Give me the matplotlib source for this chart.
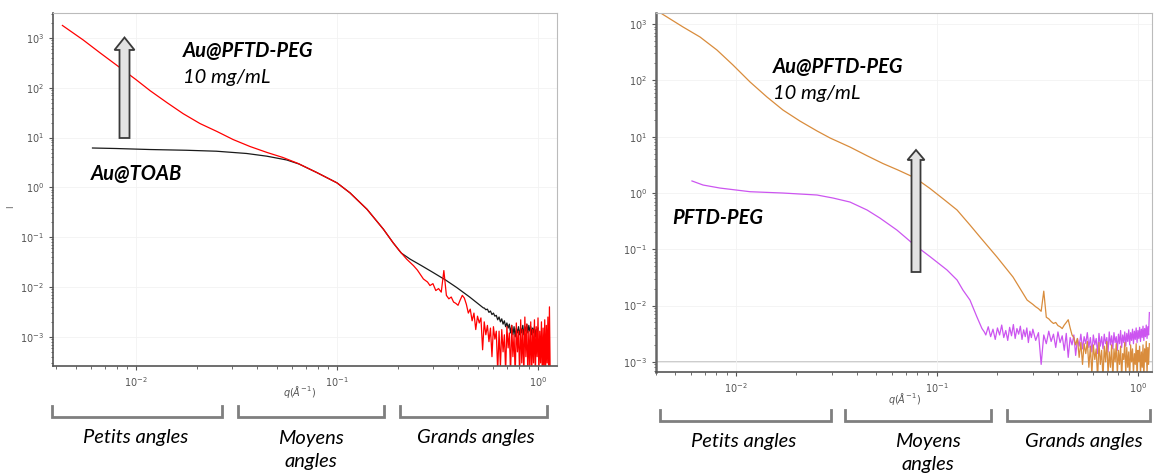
import matplotlib
matplotlib.use("Agg")
import matplotlib.pyplot as plt
from matplotlib.patches import Polygon
from matplotlib.lines import Line2D

# ---------------- data ----------------
# Left panel: Au@TOAB (black) and Au@PFTD-PEG 10 mg/mL (red)
q_red = [0.00430, 0.00545, 0.00662, 0.00879, 0.0100, 0.01175, 0.01426,
         0.01714, 0.0208, 0.0253, 0.0304, 0.0369, 0.0449, 0.0538, 0.0640, 0.0794,
         0.100, 0.116, 0.141, 0.170, 0.190, 0.204, 0.222, 0.240, 0.251, 0.269, 0.282,
         0.290,
         0.30, 0.31, 0.32, 0.33, 0.34, 0.35, 0.36, 0.37, 0.38, 0.39, 0.40, 0.41, 0.42,
         0.43, 0.44, 0.45, 0.46, 0.47, 0.48, 0.49, 0.50, 0.51, 0.52, 0.53, 0.54, 0.55,
         0.56, 0.57, 0.58, 0.59, 0.60, 0.61, 0.62, 0.63, 0.64, 0.65, 0.66, 0.67, 0.68,
         0.69, 0.70, 0.71, 0.72, 0.73, 0.74, 0.75, 0.76, 0.77, 0.78, 0.79, 0.80, 0.81,
         0.82, 0.83, 0.84, 0.85, 0.86, 0.87, 0.88, 0.89, 0.90, 0.91, 0.92, 0.93, 0.94,
         0.95, 0.96, 0.97, 0.98, 0.99, 1.00, 1.01, 1.02, 1.03, 1.04, 1.05, 1.06, 1.07,
         1.08, 1.09, 1.10, 1.11, 1.12, 1.13, 1.14, 1.15]
I_red = [1778, 912, 501, 214, 145, 87.1, 50.1,
         30.2, 19.1, 13.2, 9.12, 6.61, 5.01, 3.98, 3.02, 1.98,
         1.23, 0.776, 0.363, 0.145, 0.0776, 0.0537, 0.0363, 0.0269, 0.0219, 0.0145, 0.0126,
         0.0107,
         0.0117, 0.0085, 0.0093, 0.0079, 0.0214, 0.0068, 0.0058, 0.0063, 0.0050, 0.0047, 0.0043, 0.0055, 0.0068,
         0.0060, 0.0045, 0.0030, 0.0036, 0.0021, 0.0030, 0.0014, 0.0026, 0.0019, 0.0024, 0.00055, 0.0020, 0.0011,
         0.0017, 0.0008, 0.0015, 0.0004, 0.0016, 0.0009, 0.0013, 0.0002, 0.0013, 0.00025, 0.0014, 0.0005, 0.0011,
         0.0002, 0.0016, 0.0006, 0.0012, 0.00018, 0.0017, 0.0004, 0.0011, 0.00016, 0.0019, 0.0005, 0.0013, 0.00016,
         0.0022, 0.0003, 0.0014, 0.00016, 0.0025, 0.0004, 0.0018, 0.00016, 0.0013, 0.00025, 0.0020, 0.00016, 0.0014,
         0.0003, 0.0022, 0.00016, 0.0016, 0.0004, 0.0024, 0.00016, 0.0013, 0.0003, 0.0020, 0.00016, 0.0015, 0.0002,
         0.0022, 0.00016, 0.0017, 0.0003, 0.0025, 0.00016, 0.0040, 0.00016]

q_black = [0.00607, 0.00794, 0.01175, 0.01778, 0.0251, 0.0355, 0.0447, 0.0562, 0.0646,
           0.0794, 0.100, 0.116, 0.141, 0.170, 0.190, 0.209, 0.231, 0.263, 0.301, 0.347,
           0.394, 0.457, 0.535,
           0.54, 0.55, 0.56, 0.57, 0.58, 0.59, 0.60, 0.61, 0.62, 0.63, 0.64, 0.65, 0.66,
           0.67, 0.68, 0.69, 0.70, 0.71, 0.72, 0.73, 0.74, 0.75, 0.76, 0.77, 0.78, 0.79,
           0.80, 0.81, 0.82, 0.83, 0.84, 0.85, 0.86, 0.87, 0.88, 0.89, 0.90, 0.91, 0.92,
           0.93, 0.94, 0.95, 0.96, 0.97, 0.98, 0.99, 1.00]
I_black = [6.17, 6.03, 5.75, 5.56, 5.32, 4.79, 4.23, 3.55, 2.95,
           1.98, 1.23, 0.776, 0.363, 0.145, 0.0776, 0.0479, 0.0363, 0.0269, 0.0195, 0.0138,
           0.00977, 0.0063, 0.0038,
           0.0038, 0.0035, 0.0036, 0.0031, 0.0033, 0.0028, 0.0030, 0.0026, 0.0027, 0.0022, 0.0025, 0.0020, 0.0023,
           0.0018, 0.0021, 0.0016, 0.0019, 0.0015, 0.0018, 0.0012, 0.0017, 0.0011, 0.0016, 0.0010, 0.0015, 0.0012,
           0.0016, 0.0011, 0.0015, 0.0012, 0.0017, 0.0011, 0.0016, 0.0013, 0.0018, 0.0012, 0.0017, 0.0013, 0.0016,
           0.0011, 0.0015, 0.0012, 0.0016, 0.0010, 0.0014, 0.0012, 0.0015]

# Right panel: PFTD-PEG (magenta) and Au@PFTD-PEG 10 mg/mL (orange)
q_orange = [0.00429, 0.00545, 0.00662, 0.00804, 0.00966, 0.01175, 0.01426, 0.01714,
            0.0208, 0.0253, 0.0294, 0.0369, 0.0449, 0.0538, 0.0640, 0.0778, 0.0923,
            0.1096, 0.1259, 0.146, 0.1637, 0.199, 0.239, 0.281,
            0.30, 0.31, 0.32, 0.33, 0.34, 0.35, 0.36, 0.37, 0.38, 0.39, 0.40, 0.41, 0.42,
            0.43, 0.44, 0.45, 0.46, 0.47, 0.48, 0.49, 0.50, 0.51, 0.52, 0.53, 0.54, 0.55,
            0.56, 0.57, 0.58, 0.59, 0.60, 0.61, 0.62, 0.63, 0.64, 0.65, 0.66, 0.67, 0.68,
            0.69, 0.70, 0.71, 0.72, 0.73, 0.74, 0.75, 0.76, 0.77, 0.78, 0.79, 0.80, 0.81,
            0.82, 0.83, 0.84, 0.85, 0.86, 0.87, 0.88, 0.89, 0.90, 0.91, 0.92, 0.93, 0.94,
            0.95, 0.96, 0.97, 0.98, 0.99, 1.00, 1.01, 1.02, 1.03, 1.04, 1.05, 1.06, 1.07,
            1.08, 1.09, 1.10, 1.11, 1.12, 1.13, 1.14]
I_orange = [1507, 885, 588, 345, 187, 93.3, 50.5, 29.6,
            18.9, 12.6, 9.44, 6.53, 4.57, 3.33, 2.55, 1.85, 1.20,
            0.740, 0.497, 0.269, 0.165, 0.0726, 0.0321, 0.0125,
            0.0105, 0.0095, 0.0088, 0.0079, 0.0180, 0.0062, 0.0058, 0.0052, 0.0048, 0.0050, 0.0044, 0.0042, 0.0039,
            0.0045, 0.0050, 0.0056, 0.0040, 0.0030, 0.0027, 0.0020, 0.0026, 0.0012, 0.0022, 0.0009, 0.0021, 0.0014,
            0.0023, 0.0008, 0.0019, 0.0006, 0.0020, 0.0011, 0.0017, 0.0005, 0.0022, 0.0009, 0.0016, 0.0005, 0.0019,
            0.0010, 0.0023, 0.0006, 0.0015, 0.0008, 0.0020, 0.0005, 0.0017, 0.0010, 0.0021, 0.0006, 0.0016, 0.0009,
            0.0019, 0.0005, 0.0014, 0.0011, 0.0022, 0.0006, 0.0018, 0.0008, 0.0015, 0.0005, 0.0020, 0.0010, 0.0017,
            0.0006, 0.0014, 0.0009, 0.0021, 0.0005, 0.0016, 0.0010, 0.0019, 0.0006, 0.0015, 0.0008, 0.0020, 0.0005,
            0.0017, 0.0010, 0.0023, 0.0006, 0.0018, 0.0009, 0.0021]

q_magenta = [0.00604, 0.00686, 0.00832, 0.01175, 0.01714, 0.0253, 0.0304, 0.0369, 0.0449,
             0.0520, 0.0632, 0.0760, 0.0923, 0.1122, 0.1259, 0.1347, 0.146, 0.158, 0.1675,
             0.172,
             0.175, 0.18, 0.185, 0.19, 0.195, 0.20, 0.205, 0.21, 0.215, 0.22, 0.225, 0.23,
             0.235, 0.24, 0.245, 0.25, 0.255, 0.26, 0.265, 0.27, 0.275, 0.28, 0.285, 0.29,
             0.295, 0.30, 0.31, 0.32, 0.33, 0.34, 0.35, 0.36, 0.37, 0.38, 0.39, 0.40, 0.41,
             0.42, 0.43, 0.44, 0.45, 0.46, 0.47, 0.48, 0.49, 0.50, 0.51, 0.52, 0.53, 0.54,
             0.55, 0.56, 0.57, 0.58, 0.59, 0.60, 0.61, 0.62, 0.63, 0.64, 0.65, 0.66, 0.67,
             0.68, 0.69, 0.70, 0.71, 0.72, 0.73, 0.74, 0.75, 0.76, 0.77, 0.78, 0.79, 0.80,
             0.81, 0.82, 0.83, 0.84, 0.85, 0.86, 0.87, 0.88, 0.89, 0.90, 0.91, 0.92, 0.93,
             0.94, 0.95, 0.96, 0.97, 0.98, 0.99, 1.00, 1.01, 1.02, 1.03, 1.04, 1.05, 1.06,
             1.07, 1.08, 1.09, 1.10, 1.11, 1.12, 1.13, 1.14]
I_magenta = [1.63, 1.38, 1.22, 1.05, 0.995, 0.918, 0.811, 0.689, 0.497,
             0.358, 0.219, 0.125, 0.0740, 0.0428, 0.0284, 0.0188, 0.0125, 0.0063, 0.0039,
             0.0034,
             0.0030, 0.0042, 0.0028, 0.0038, 0.0025, 0.0040, 0.0030, 0.0045, 0.0027, 0.0036, 0.0024, 0.0041,
             0.0029, 0.0046, 0.0026, 0.0039, 0.0031, 0.0043, 0.0025, 0.0037, 0.0028, 0.0040, 0.0022, 0.0035,
             0.0027, 0.0038, 0.0024, 0.0033, 0.0009, 0.0030, 0.0021, 0.0035, 0.0023, 0.0031, 0.0018, 0.0034, 0.0022,
             0.0029, 0.0016, 0.0032, 0.0012, 0.0027, 0.0020, 0.0030, 0.0013, 0.0026, 0.0019, 0.0031, 0.0017, 0.0028,
             0.0021, 0.0033, 0.0018, 0.0027, 0.0015, 0.0030, 0.0020, 0.0026, 0.0014, 0.0032, 0.0019, 0.0028, 0.0017,
             0.0031, 0.0021, 0.0027, 0.0015, 0.0034, 0.0020, 0.0029, 0.0017, 0.0033, 0.0022, 0.0028, 0.0016, 0.0031,
             0.0021, 0.0036, 0.0018, 0.0030, 0.0022, 0.0034, 0.0019, 0.0032, 0.0023, 0.0037, 0.0020, 0.0033, 0.0024,
             0.0038, 0.0021, 0.0035, 0.0025, 0.0040, 0.0022, 0.0036, 0.0026, 0.0041, 0.0023, 0.0038, 0.0027, 0.0043,
             0.0024, 0.0039, 0.0028, 0.0045, 0.0026, 0.0042, 0.0030, 0.0075]

baseline_right = 1e-3

# labels
label_top = "Au@PFTD-PEG"
label_conc = "10 mg/mL"
label_left_low = "Au@TOAB"
label_right_low = "PFTD-PEG"
range_labels = ["Petits angles", "Moyens\nangles", "Grands angles"]

# ---------------- figure ----------------
W, H = 1154, 476
fig = plt.figure(figsize=(W / 100, H / 100), dpi=100)
fig.patch.set_facecolor("white")

FONT = ["Lato", "DejaVu Sans"]


def px(x, y):
    return (x / W, 1 - y / H)


def style_axes(ax):
    ax.set_xscale("log")
    ax.set_yscale("log")
    ax.grid(True, which="major", color="#f2f2f2", lw=0.6)
    for s in ("left", "bottom"):
        ax.spines[s].set_color("#555555")
        ax.spines[s].set_linewidth(1.2)
    for s in ("top", "right"):
        ax.spines[s].set_color("#bbbbbb")
        ax.spines[s].set_linewidth(0.8)
    ax.tick_params(which="major", labelsize=7, colors="#555555", length=3, width=0.8)
    ax.tick_params(which="minor", colors="#555555", length=1.8, width=0.6)


# left axes
axL = fig.add_axes([53 / W, 1 - 366 / H, 504 / W, 353 / H])
style_axes(axL)
axL.plot(q_black, I_black, color="#1a1a1a", lw=0.9)
axL.plot(q_red, I_red, color="#ff0000", lw=0.9)
axL.set_xlim(0.00386, 1.243)
axL.set_ylim(2.6e-4, 3162)
axL.set_xlabel(r"$q(\AA^{-1})$", fontsize=7, color="#555555")
axL.xaxis.set_label_coords(0.49, -0.05)
axL.set_ylabel("I", fontsize=6, color="#555555")
axL.yaxis.set_label_coords(-0.075, 0.45)

# right axes
axR = fig.add_axes([656 / W, 1 - 372 / H, 496 / W, 359 / H])
style_axes(axR)
axR.axhline(baseline_right, color="#cccccc", lw=1.4, zorder=1)
axR.plot(q_magenta, I_magenta, color="#cc55f0", lw=0.9)
axR.plot(q_orange, I_orange, color="#d98c3c", lw=0.9)
axR.set_xlim(0.0040, 1.175)
axR.set_ylim(6.6e-4, 1567)
axR.set_xlabel(r"$q(\AA^{-1})$", fontsize=7, color="#555555")
axR.xaxis.set_label_coords(0.50, -0.052)
axR.spines["left"].set_linewidth(1.8)
axR.spines["left"].set_color("#666666")

# ---------------- annotations ----------------
def txt(x, y, s, size=14.5, weight="bold", style="italic", ha="left", ls=1.2):
    fig.text(*px(x, y), s, fontsize=size, fontweight=weight, fontstyle=style,
             ha=ha, va="center", family=FONT, color="black", linespacing=ls)

txt(183, 51, label_top)
txt(183, 77, label_conc, weight="normal")
txt(91, 174, label_left_low)
txt(773, 67, label_top)
txt(773, 93, label_conc, weight="normal")
txt(672, 218, label_right_low)


def block_arrow(xc, ytip, yhead, ybase, shaft_w, head_w):
    pts = [px(xc, ytip), px(xc + head_w / 2, yhead), px(xc + shaft_w / 2, yhead),
           px(xc + shaft_w / 2, ybase), px(xc - shaft_w / 2, ybase),
           px(xc - shaft_w / 2, yhead), px(xc - head_w / 2, yhead)]
    fig.patches.append(Polygon(pts, closed=True, transform=fig.transFigure,
                               facecolor="#e2e2e2", edgecolor="#3a3a3a", lw=1.3))

block_arrow(124.5, 37.5, 50, 138, 10, 20)
block_arrow(916, 150, 160, 272, 9, 17)


def bracket(x0, x1, ytop, ybot):
    xs = [x0 / W, x0 / W, x1 / W, x1 / W]
    ys = [1 - ytop / H, 1 - ybot / H, 1 - ybot / H, 1 - ytop / H]
    fig.lines.append(Line2D(xs, ys, transform=fig.transFigure, color="#7f7f7f",
                            lw=2.0, solid_joinstyle="miter"))

for (a, b) in [(52, 222), (238, 384), (400, 547)]:
    bracket(a, b, 406, 417)
for (a, b) in [(660, 831), (845, 991), (1007, 1150)]:
    bracket(a, b, 410, 421)

txt(136, 438, range_labels[0], weight="normal", ha="center")
txt(311, 450, range_labels[1], weight="normal", ha="center", ls=1.38)
txt(476, 438, range_labels[2], weight="normal", ha="center")
txt(744, 441, range_labels[0], weight="normal", ha="center")
txt(928, 453, range_labels[1], weight="normal", ha="center", ls=1.38)
txt(1084, 441, range_labels[2], weight="normal", ha="center")

fig.savefig("out.png", dpi=100, facecolor="white")
